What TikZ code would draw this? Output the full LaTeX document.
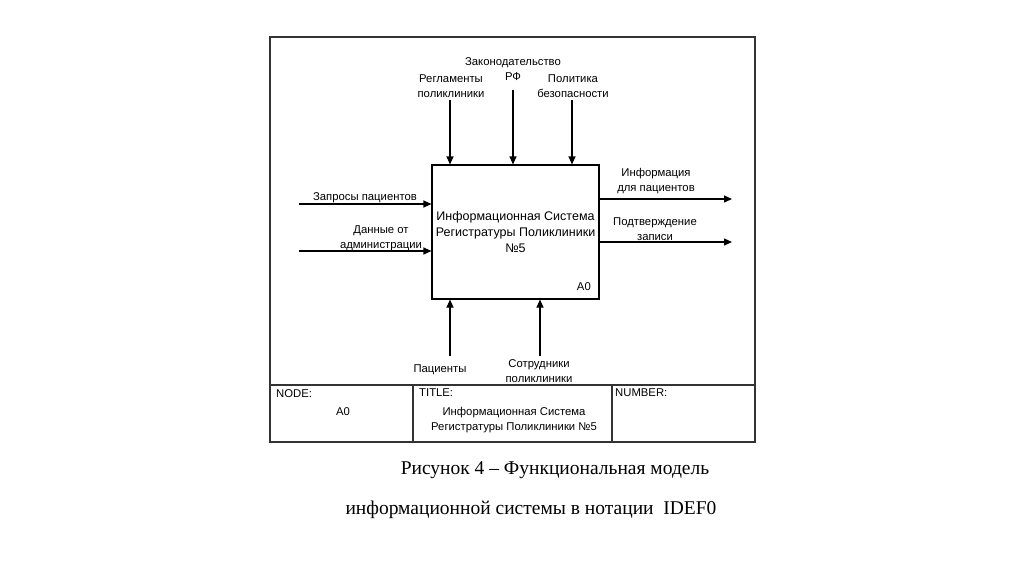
\documentclass[tikz,border=0pt]{standalone}
\usepackage{fontspec}
\setmainfont{Liberation Sans}
\newfontfamily\capfont{Liberation Serif}
\usetikzlibrary{arrows.meta}
\begin{document}
\begin{tikzpicture}[x=1pt,y=-1pt,
  lbl/.style={font=\fontsize{11.3}{15}\selectfont,align=center,inner sep=0pt},
  arr/.style={line width=1.1pt,-{Triangle[length=8pt,width=7pt]}},
  frame/.style={line width=1.3pt,draw=black!80},
  tcell/.style={font=\fontsize{11.3}{15}\selectfont,anchor=north west,inner sep=0pt}]
\useasboundingbox[fill=white] (0,0) rectangle (1024,574);
% frame and table
\draw[frame] (270,37) rectangle (755,442);
\draw[frame] (270,385) -- (755,385);
\draw[frame] (413,385) -- (413,442);
\draw[frame] (612,385) -- (612,442);
\node[tcell] (nodeh) at (276,389) {NODE:};
\node[tcell] (titleh) at (419,389) {TITLE:};
\node[tcell] (numh) at (615,389) {NUMBER:};
\node[lbl] (nodev) at (343,412) {A0};
\node[lbl] (titlev) at (514,420) {Информационная Система\\Регистратуры Поликлиники №5};
% main box
\node[draw,line width=1.1pt,minimum width=167pt,minimum height=134pt,inner sep=0pt] (box) at (515.5,232) {};
\node[font=\fontsize{12.5}{16}\selectfont,align=center,inner sep=0pt] (boxt) at (515.5,232) {Информационная Система\\Регистратуры Поликлиники\\№5};
\node[lbl,anchor=south east] (a0) at (591,291) {A0};
% controls
\node[lbl] (c1) at (451,86) {Регламенты\\поликлиники};
\node[lbl] (c2) at (513,69) {Законодательство\\РФ};
\node[lbl] (c3) at (573,86) {Политика\\безопасности};
\coordinate (c1s) at (450,100);
\coordinate (c2s) at (513,90);
\coordinate (c3s) at (572,100);
\draw[arr] (c1s) -- (c1s |- box.north);
\draw[arr] (c2s) -- (c2s |- box.north);
\draw[arr] (c3s) -- (c3s |- box.north);
% inputs
\coordinate (i1s) at (299,204);
\coordinate (i2s) at (299,251);
\draw[arr] (i1s) -- (i1s -| box.west);
\draw[arr] (i2s) -- (i2s -| box.west);
\node[lbl] (i1) at (365,198) {Запросы пациентов};
\node[lbl] (i2) at (381,238) {Данные от\\администрации};
% outputs
\coordinate (o1e) at (732,199);
\coordinate (o2e) at (732,242);
\draw[arr] (o1e -| box.east) -- (o1e);
\draw[arr] (o2e -| box.east) -- (o2e);
\node[lbl] (o1) at (656,181) {Информация\\для пациентов};
\node[lbl] (o2) at (655,229) {Подтверждение\\записи};
% mechanisms
\coordinate (m1s) at (450,356);
\coordinate (m2s) at (540,356);
\draw[arr] (m1s) -- (m1s |- box.south);
\draw[arr] (m2s) -- (m2s |- box.south);
\node[lbl] (m1) at (440,370) {Пациенты};
\node[lbl] (m2) at (539,371) {Сотрудники\\поликлиники};
% caption
\node[font=\capfont\fontsize{19.5}{24}\selectfont,inner sep=0pt] (cap1) at (555,470) {Рисунок 4 – Функциональная модель};
\node[font=\capfont\fontsize{19.5}{24}\selectfont,inner sep=0pt] (cap2) at (531,510) {информационной системы в нотации\ \ IDEF0};
\end{tikzpicture}
\end{document}
